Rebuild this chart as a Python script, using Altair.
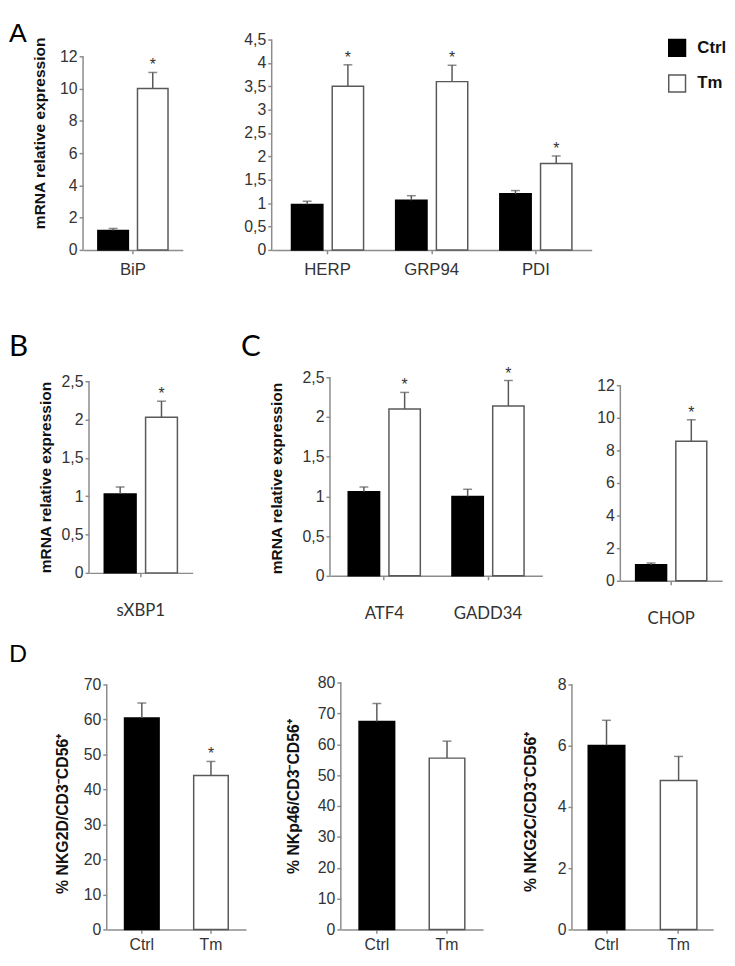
import altair as alt
import pandas as pd

GROUPS = ["Ctrl", "Tm"]
FILL = ["#000000", "#ffffff"]
EDGE = ["#000000", "#595959"]
AXIS_GRAY = "#8c8c8c"
TEXT = "#333333"
SANS = "Liberation Sans"
CALI = "Lato"

# ---- Panel A (left): BiP
a1_cats = ["BiP"]
a1_ctrl = [1.20]
a1_ctrl_err = [0.13]
a1_tm = [10.0]
a1_tm_err = [1.0]
a1_star = ["*"]

# ---- Panel A (right): HERP, GRP94, PDI
a2_cats = ["HERP", "GRP94", "PDI"]
a2_ctrl = [0.97, 1.06, 1.20]
a2_ctrl_err = [0.07, 0.10, 0.07]
a2_tm = [3.50, 3.60, 1.85]
a2_tm_err = [0.46, 0.35, 0.16]
a2_star = ["*", "*", "*"]

# ---- Panel B: sXBP1
b_cats = ["sXBP1"]
b_ctrl = [1.03]
b_ctrl_err = [0.09]
b_tm = [2.03]
b_tm_err = [0.21]
b_star = ["*"]

# ---- Panel C (left): ATF4, GADD34
c1_cats = ["ATF4", "GADD34"]
c1_ctrl = [1.06, 1.00]
c1_ctrl_err = [0.06, 0.09]
c1_tm = [2.10, 2.14]
c1_tm_err = [0.21, 0.32]
c1_star = ["*", "*"]

# ---- Panel C (right): CHOP
c2_cats = ["CHOP"]
c2_ctrl = [0.99]
c2_ctrl_err = [0.10]
c2_tm = [8.56]
c2_tm_err = [1.32]
c2_star = ["*"]

# ---- Panel D
d1_values = [60.4, 44.0]
d1_err = [4.3, 4.0]
d1_star = ["", "*"]
d2_values = [67.4, 55.5]
d2_err = [5.8, 5.5]
d2_star = ["", ""]
d3_values = [6.01, 4.86]
d3_err = [0.82, 0.79]
d3_star = ["", ""]

# tick labels
ticks_12 = [0, 2, 4, 6, 8, 10, 12]
ticks_45 = [0, 0.5, 1, 1.5, 2, 2.5, 3, 3.5, 4, 4.5]
ticks_25 = [0, 0.5, 1, 1.5, 2, 2.5]
ticks_70 = [0, 10, 20, 30, 40, 50, 60, 70]
ticks_80 = [0, 10, 20, 30, 40, 50, 60, 70, 80]
ticks_8 = [0, 2, 4, 6, 8]

MRNA = "mRNA relative expression"
D1_TITLE = "% NKG2D/CD3\u207bCD56\u207a"
D2_TITLE = "% NKp46/CD3\u207bCD56\u207a"
D3_TITLE = "% NKG2C/CD3\u207bCD56\u207a"


def grouped_df(cats, ctrl, ctrl_err, tm, tm_err, stars):
    rows = []
    for i, c in enumerate(cats):
        rows.append({"cat": c, "group": "Ctrl", "value": ctrl[i], "err": ctrl_err[i], "star": ""})
        rows.append({"cat": c, "group": "Tm", "value": tm[i], "err": tm_err[i], "star": stars[i]})
    return pd.DataFrame(rows)


def pair_df(values, errs, stars):
    return pd.DataFrame({"cat": GROUPS, "group": GROUPS, "value": values,
                         "err": errs, "star": stars})


LEGEND = alt.Legend(title=None, orient="none", legendX=667, legendY=-1,
                    symbolType="square", symbolSize=289,
                    symbolStrokeColor="#595959", symbolStrokeWidth=1.5,
                    labelFont=SANS, labelFontSize=17, labelFontWeight="bold",
                    labelColor="#111111", labelOffset=11, rowPadding=13)

DUMMY = pd.DataFrame({"k": [0]})


def letter(t, px, py, font, size):
    return alt.Chart(pd.DataFrame({"t": [t]})).mark_text(
        font=font, fontSize=size, align="left", baseline="top", color="#000000").encode(
        text="t:N", x=alt.value(px), y=alt.value(py))


def marker(x0, y0, y1):
    # invisible (white) guide that fixes the layout extent of a cell
    return alt.Chart(DUMMY).mark_rule(color="#ffffff", strokeWidth=1).encode(
        x=alt.value(x0), y=alt.value(y0), y2=alt.value(y1))


def panel(df, cats, grouped, width, height, ymax, top, ticks, left, title=None,
          title_x=0, title_y=0, title_size=15.7, p_inner=0.0, p_outer=0.2,
          xfont=SANS, xsize=16, xpad=8, comma=False, extra=()):
    xaxis = alt.Axis(title=None, labelAngle=0, labelFont=xfont, labelFontSize=xsize,
                     labelPadding=xpad, bandPosition=0.5, labelColor=TEXT)
    x = alt.X("cat:N", sort=cats,
              scale=alt.Scale(domain=cats, paddingInner=p_inner, paddingOuter=p_outer),
              axis=xaxis)
    yscale = alt.Scale(domain=[0, ymax], nice=False, zero=True)
    ykw = dict(values=ticks, domain=False, labelPadding=2)
    if comma:
        ykw["labelExpr"] = "replace(format(datum.value, '~g'), '.', ',')"
    if title:
        ykw.update(title=title, titleX=title_x, titleY=title_y, titleAngle=270,
                   titleAlign="center", titleBaseline="middle",
                   titleFontSize=title_size)
    else:
        ykw["title"] = None
    yaxis = alt.Axis(**ykw)

    enc = {"x": x}
    if grouped:
        enc["xOffset"] = alt.XOffset("group:N", sort=GROUPS,
                                     scale=alt.Scale(domain=GROUPS, paddingInner=0.23,
                                                     paddingOuter=0))
    base = alt.Chart(df).transform_calculate(hi="datum.value + datum.err")
    bars = base.mark_bar(strokeWidth=1.5).encode(
        y=alt.Y("value:Q", scale=yscale, axis=yaxis),
        fill=alt.Fill("group:N", scale=alt.Scale(domain=GROUPS, range=FILL), legend=LEGEND),
        stroke=alt.Stroke("group:N", scale=alt.Scale(domain=GROUPS, range=EDGE), legend=None),
        **enc)
    err = base.mark_rule(color="#595959", strokeWidth=1.5).encode(
        y=alt.Y("value:Q", scale=yscale, axis=yaxis), y2="hi:Q", **enc)
    cap = base.mark_tick(color="#595959", thickness=1.5, size=9).encode(
        y=alt.Y("hi:Q", scale=yscale, axis=yaxis), **enc)
    star = base.transform_filter("datum.star != ''").mark_text(
        font=SANS, fontSize=16, color=TEXT, baseline="alphabetic", dy=-2).encode(
        y=alt.Y("hi:Q", scale=yscale, axis=yaxis), text="star:N", **enc)
    yline = alt.Chart(pd.DataFrame({"lo": [0], "up": [top]})).mark_rule(
        color=AXIS_GRAY, strokeWidth=1.5).encode(
        x=alt.value(0), y=alt.Y("lo:Q", scale=yscale, axis=yaxis), y2="up:Q")
    layers = [marker(-left, 0, 1), bars, err, cap, star, yline] + list(extra)
    return alt.layer(*layers).properties(width=width, height=height)


def lead(w, t, b, letters):
    return alt.layer(marker(0, -t, b), *letters).properties(width=w, height=1)


# Row A  (row origin = page y 33)
a1 = panel(grouped_df(a1_cats, a1_ctrl, a1_ctrl_err, a1_tm, a1_tm_err, a1_star),
           a1_cats, True, 101, 213, 12 * 213 / 196, 12, ticks_12, 53, MRNA, -44, 94.5, 15.7,
           0.0, 0.211, SANS, 17, 8, True)
a2 = panel(grouped_df(a2_cats, a2_ctrl, a2_ctrl_err, a2_tm, a2_tm_err, a2_star),
           a2_cats, True, 324, 213, 4.5, 4.5, ticks_45, 89, None, 0, 0, 15.7,
           0.308, 0.19, SANS, 17, 8, True)
# Row B/C  (row origin = page y 373)
b = panel(grouped_df(b_cats, b_ctrl, b_ctrl_err, b_tm, b_tm_err, b_star),
          b_cats, True, 105, 198, 2.5 * 198 / 194, 2.5, ticks_25, 56, MRNA, -44, 101, 15.7,
          0.0, 0.209, CALI, 17, 26, True)
c1 = panel(grouped_df(c1_cats, c1_ctrl, c1_ctrl_err, c1_tm, c1_tm_err, c1_star),
           c1_cats, True, 215, 201, 2.5, 2.5, ticks_25, 138, MRNA, -54, 102, 15.7,
           0.305, 0.176, CALI, 17, 26, True,
           extra=[letter("C", -90, -46, CALI, 30)])
c2 = panel(grouped_df(c2_cats, c2_ctrl, c2_ctrl_err, c2_tm, c2_tm_err, c2_star),
           c2_cats, True, 103, 206, 12 * 206 / 198, 12, ticks_12, 78, None, 0, 0, 15.7,
           0.0, 0.215, CALI, 17, 26, True)
# Row D  (row origin = page y 680)
d1 = panel(pair_df(d1_values, d1_err, d1_star), GROUPS, False, 141, 250, 70 * 250 / 248, 70,
           ticks_70, 74, D1_TITLE, -44.5, 132.5, 16, 0.5, 0.257, SANS, 16, 3, False)
d2 = panel(pair_df(d2_values, d2_err, d2_star), GROUPS, False, 144, 250, 80, 80,
           ticks_80, 95, D2_TITLE, -48, 115, 16, 0.493, 0.26, SANS, 16, 3, False)
d3 = panel(pair_df(d3_values, d3_err, d3_star), GROUPS, False, 143, 250, 8 * 250 / 248, 8,
           ticks_8, 89, D3_TITLE, -42, 130.5, 16, 0.493, 0.226, SANS, 16, 3, False)

row_a = alt.hconcat(lead(21, 25, 287, [letter("A", 0, -19, SANS, 27)]), a1, a2,
                    spacing=0).resolve_scale(xOffset="independent")
row_b = alt.hconcat(lead(24, 53, 257, [letter("B", 0, -46, CALI, 30)]), b, c1, c2,
                    spacing=0).resolve_scale(xOffset="independent")
row_d = alt.hconcat(lead(24, 50, 260, [letter("D", 0, -40, CALI, 24)]), d1, d2, d3,
                    spacing=0).resolve_scale(xOffset="independent")

chart = alt.vconcat(
    row_a, row_b, row_d, spacing=0
).resolve_scale(
    xOffset="independent"
).properties(
    padding=0
).configure_view(
    stroke=None
).configure_axis(
    domainColor=AXIS_GRAY, domainWidth=1.5, tickColor=AXIS_GRAY, tickWidth=1.5,
    tickSize=4, labelFont=SANS, labelFontSize=16, labelColor=TEXT,
    titleFont=SANS, titleFontWeight="bold", titleColor="#111111", grid=False
)

chart.save("out.html", embed_options={"renderer": "svg", "actions": False})
